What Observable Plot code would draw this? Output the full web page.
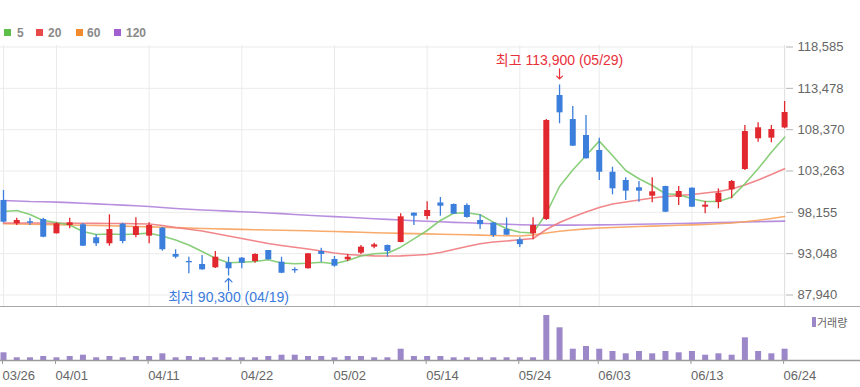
<!DOCTYPE html>
<html><head><meta charset="utf-8">
<script src="https://cdn.jsdelivr.net/npm/d3@7"></script>
<script src="https://cdn.jsdelivr.net/npm/@observablehq/plot@0.6"></script>
<style>
body{margin:0;background:#fff;font-family:"Liberation Sans",Arial,"Noto Sans CJK KR",sans-serif;}
#wrap{position:relative;width:860px;height:387px;overflow:hidden;background:#fff;}
#price,#vol{position:absolute;left:0;}
#price{top:0}
#vol{top:307px}
.sq{position:absolute;top:29px;width:7px;height:7px;}
.lt{position:absolute;top:25px;font-size:12px;font-weight:bold;color:#8a8a8a;line-height:16px;}
#sep{position:absolute;left:0;top:306px;width:860px;height:1px;background:#a8a8a8;}
#vleg{position:absolute;left:812px;top:317px;width:4px;height:10px;background:#9c87c9;}
#vlegt{position:absolute;left:817px;top:314px;font-size:11px;color:#666;font-family:"Noto Sans CJK KR",sans-serif;line-height:16px;}
</style></head>
<body>
<div id="wrap">
  <div id="price"></div>
  <div id="vol"></div>
  <div id="sep"></div>
  <div class="sq" style="left:4px;background:#5dbf4a"></div><div class="lt" style="left:17px">5</div>
  <div class="sq" style="left:36px;background:#e84848"></div><div class="lt" style="left:48px">20</div>
  <div class="sq" style="left:76px;background:#f28a30"></div><div class="lt" style="left:87px">60</div>
  <div class="sq" style="left:114px;background:#a25fcf"></div><div class="lt" style="left:126px">120</div>
  <div id="vleg"></div><div id="vlegt">거래량</div>
</div>
<script>
const dates = ["03/26","03/27","03/28","03/29","04/01","04/02","04/03","04/04","04/05","04/08","04/09","04/11","04/12","04/15","04/16","04/17","04/18","04/19","04/22","04/23","04/24","04/25","04/26","04/29","04/30","05/02","05/03","05/07","05/08","05/09","05/10","05/13","05/14","05/16","05/17","05/20","05/21","05/22","05/23","05/24","05/27","05/28","05/29","05/30","05/31","06/03","06/04","06/05","06/07","06/10","06/11","06/12","06/13","06/14","06/17","06/18","06/19","06/20","06/21","06/24"];
const open = [99620,96740,96990,97270,95500,96530,96620,95010,94270,96690,95290,95210,96200,92950,92080,91710,91300,91920,92490,92080,93440,91990,91090,91180,93320,92330,92290,93110,93850,94060,94430,98050,97640,99310,99120,99000,97150,96840,96030,94760,95500,97270,112590,109620,107650,105800,103110,102090,101190,100150,101350,99990,101140,98790,99370,100940,103450,107240,107320,108580];
const high = [100850,97430,97430,97430,96860,97430,96780,95380,97850,96810,97480,96860,96280,93530,92610,92820,93320,92610,92570,93030,93440,92610,91300,93060,93720,92700,92950,94060,94340,94120,97970,98080,99460,99990,99190,99210,97860,96900,97450,95010,97480,109620,113900,111230,110120,107320,103730,102420,101970,102420,101380,101350,101160,99490,101060,102090,108890,109220,108890,111850];
const low = [96840,96530,96530,95010,95480,96120,93930,93930,93970,94270,95010,94270,93350,92410,90560,91000,91220,90300,91180,91870,92260,90570,90630,91150,91990,91380,92080,92950,93650,92610,94390,96530,97230,97680,97890,97430,96030,95060,95290,93810,94760,97150,109100,106300,104750,102090,100320,99620,99410,99330,98130,99000,98750,97970,98590,99830,103320,106820,106750,108480];
const close = [96940,97150,96810,95080,96740,96860,93970,94270,96030,94550,96370,96530,93530,92610,91920,91050,92610,91180,91870,92950,92290,90630,90930,93030,92950,91500,92610,93850,94140,93320,97600,97680,98380,98910,97930,97520,96630,95290,95330,94160,96530,109500,110450,106330,104770,103110,101060,100770,100770,100690,98170,100730,98790,99040,100520,101970,108140,108600,108390,110490];
const ma5 = [98260,98380,97890,97150,96900,96590,95790,95420,95480,95420,95480,95580,95230,94740,94120,93320,92490,91920,91990,92080,92290,91890,91800,91870,91990,91800,92200,92760,93030,93110,93850,94880,95910,97150,98050,98100,97850,96940,96120,95700,95600,98010,101350,103390,105180,106950,105180,103320,102300,101470,100450,100360,99830,99490,99490,100030,101680,103530,105590,107440];
const ma20 = [96840,96840,96840,96830,96810,96800,96800,96790,96780,96780,96750,96710,96530,96280,96070,95850,95540,95230,94920,94610,94300,94060,93850,93620,93380,93130,92950,92850,92780,92760,92780,92850,92950,93190,93560,93930,94270,94490,94610,94760,94920,96030,96900,97580,98200,98750,99190,99430,99680,99930,100110,100240,100360,100540,100730,101040,101530,102150,102830,103530];
const ma60 = [96740,96710,96680,96650,96620,96590,96550,96530,96490,96450,96400,96360,96310,96260,96210,96160,96120,96080,96050,96010,95970,95940,95910,95870,95820,95790,95740,95690,95640,95600,95560,95530,95490,95450,95420,95380,95340,95300,95270,95230,95350,95600,95810,95970,96110,96210,96280,96340,96400,96450,96500,96550,96600,96660,96740,96840,97000,97170,97390,97640];
const ma120 = [99620,99560,99490,99460,99420,99350,99270,99200,99120,99050,98960,98880,98750,98630,98530,98440,98380,98310,98230,98160,98070,97990,97890,97800,97710,97630,97540,97460,97370,97280,97200,97120,97050,96990,96920,96860,96800,96740,96680,96630,96590,96580,96580,96580,96590,96600,96630,96650,96680,96710,96750,96780,96810,96850,96890,96920,96960,97000,97040,97070];
const volume = [1540,540,540,800,540,800,1060,540,800,540,800,800,1340,540,800,540,540,540,540,540,800,1060,1060,800,800,540,800,800,540,540,2260,800,800,800,540,540,540,540,540,540,540,9000,6540,2260,2800,2260,1800,1340,1800,1340,1800,1540,1800,1060,1340,1060,4540,1800,1340,2260];
const priceTicks = [87940,93048,98155,103263,108370,113478,118585];
const xTicks = ["03/26","04/01","04/11","04/22","05/02","05/14","05/24","06/03","06/13","06/24"];

const RED = "#e2282f", BLUE = "#3c7edb";
const data = dates.map((d,i)=>({i, date:d, open:open[i], high:high[i], low:low[i], close:close[i], vol:volume[i],
  ma5:ma5[i], ma20:ma20[i], ma60:ma60[i], ma120:ma120[i]}));
const tickIdx = xTicks.map(t => dates.indexOf(t));
const col = d => d.close >= d.open ? RED : BLUE;
const hi = data.reduce((a,b)=> b.high > a.high ? b : a);
const lo = data.reduce((a,b)=> b.low < a.low ? b : a);
const fmt = d3.format(",");
const xScale = {type:"linear", domain:[0, dates.length-1], range:[3, 784.1]};
const font = '"Liberation Sans", Arial, "Noto Sans CJK KR", sans-serif';

const price = Plot.plot({
  width:860, height:307,
  marginLeft:0, marginRight:75, marginTop:45, marginBottom:0,
  style:{fontFamily:font, fontSize:"13px", background:"transparent", overflow:"visible"},
  x:{...xScale, axis:null},
  y:{domain:[87940,118585], range:[294.5,46.5]},
  marks:[
    Plot.ruleY(priceTicks, {stroke:"#ebebeb"}),
    Plot.ruleX(tickIdx, {stroke:"#ebebeb"}),
    Plot.ruleX([dates.length-1], {stroke:"#e0e0e0"}),
    Plot.axisY({anchor:"right", ticks:priceTicks, tickFormat:fmt, tickSize:7, tickPadding:5, stroke:"#b5b5b5", fill:"#666", label:null}),
    Plot.line(data, {x:"i", y:"ma120", stroke:"#b083dc", strokeWidth:1.6, strokeOpacity:0.9}),
    Plot.line(data, {x:"i", y:"ma60", stroke:"#f7a25c", strokeWidth:1.6, strokeOpacity:0.9}),
    Plot.line(data, {x:"i", y:"ma20", stroke:"#f07a7d", strokeWidth:1.6, strokeOpacity:0.9}),
    Plot.line(data, {x:"i", y:"ma5", stroke:"#7cc96c", strokeWidth:1.6, strokeOpacity:0.9}),
    Plot.ruleX(data, {x:"i", y1:"low", y2:"high", stroke:col, strokeWidth:1.3}),
    Plot.ruleX(data, {x:"i", y1:"open", y2:"close", stroke:col, strokeWidth:6}),
    Plot.text([hi], {x:"i", y:"high", text:d=>`최고 ${fmt(d.high)} (${d.date})`, dy:-24, fill:"#e8303a", fontSize:14}),
    Plot.vector([hi], {x:"i", y:"high", length:10, rotate:180, anchor:"start", dy:-16, r:5, stroke:"#e8303a", strokeWidth:1.2}),
    Plot.text([lo], {x:"i", y:"low", text:d=>`최저 ${fmt(d.low)} (${d.date})`, dy:22, fill:"#3a7bdc", fontSize:14}),
    Plot.vector([lo], {x:"i", y:"low", length:12, rotate:0, anchor:"start", dy:14.6, r:5, stroke:"#3a7bdc", strokeWidth:1.2})
  ]
});
document.getElementById("price").appendChild(price);

const vol = Plot.plot({
  width:860, height:80,
  marginLeft:0, marginRight:0, marginTop:0, marginBottom:27,
  style:{fontFamily:font, fontSize:"13px", background:"transparent", overflow:"visible"},
  x:xScale,
  y:{domain:[0,10600], range:[53,0], axis:null},
  marks:[
    Plot.ruleX(data, {x:"i", y1:0, y2:"vol", stroke:"#9c87c9", strokeWidth:6}),
    Plot.ruleY([0], {stroke:"#9a9a9a", strokeWidth:1.3}),
    Plot.axisX({ticks:tickIdx, tickFormat:i=>dates[i], tickSize:4, tickPadding:6, textAnchor:"start", dx:-1, stroke:"#9a9a9a", fill:"#666", label:null})
  ]
});
document.getElementById("vol").appendChild(vol);
</script>
</body></html>
